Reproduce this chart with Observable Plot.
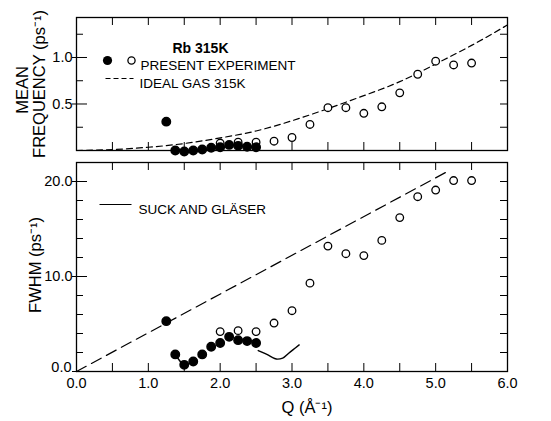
<!DOCTYPE html>
<html><head><meta charset="utf-8">
<script src="https://cdn.jsdelivr.net/npm/d3@7"></script>
<script src="https://cdn.jsdelivr.net/npm/@observablehq/plot@0.6"></script>
<style>
body{margin:0;background:#fff;}
#chart svg{display:block;overflow:visible;}
</style></head><body><div id="chart"></div>
<script>
// ---- data ----
const qFilled    = [1.25, 1.375, 1.5, 1.625, 1.75, 1.875, 2.0, 2.125, 2.25, 2.375, 2.5];
const freqFilled = [0.31, 0.0, -0.01, 0.0, 0.01, 0.03, 0.035, 0.06, 0.05, 0.04, 0.035];
const fwhmFilled = [5.3, 1.8, 0.7, 1.05, 1.8, 2.6, 3.0, 3.65, 3.3, 3.2, 3.0];
const qOpen    = [2.0, 2.25, 2.5, 2.75, 3.0, 3.25, 3.5, 3.75, 4.0, 4.25, 4.5, 4.75, 5.0, 5.25, 5.5];
const freqOpen = [0.08, 0.09, 0.09, 0.10, 0.14, 0.28, 0.46, 0.46, 0.40, 0.47, 0.62, 0.82, 0.96, 0.92, 0.94];
const fwhmOpen = [4.2, 4.3, 4.2, 5.1, 6.4, 9.3, 13.2, 12.4, 12.2, 13.8, 16.2, 18.4, 19.1, 20.1, 20.1];
const qIdealFreq = [0, 0.5, 1, 1.5, 2, 2.5, 3, 3.5, 4, 4.5, 5, 5.5, 6];
const idealFreq  = [0, 0.01, 0.035, 0.075, 0.135, 0.21, 0.32, 0.45, 0.59, 0.74, 0.93, 1.13, 1.35];
const qIdealFwhm = [0, 5.2];
const idealFwhm  = [0, 21.2];
const qSuck    = [1.4, 1.5, 2.53, 2.65, 2.8, 2.87, 2.95, 3.05, 3.1];
const suckFwhm = [1.5, 0.5, 2.2, 1.8, 1.3, 1.4, 1.9, 2.5, 2.8];
const suckSeg  = [0, 0, 1, 1, 1, 1, 1, 1, 1];
const xTickLabels = [0, 1, 2, 3, 4, 5, 6];
const xTicksMinor = [0.5, 1, 1.5, 2, 2.5, 3, 3.5, 4, 4.5, 5, 5.5];
const freqTickLabels = [0.5, 1.0];
const freqTicksMinor = [0.25, 0.75, 1.25];
const fwhmTickLabels = [0, 10, 20];
const fwhmTicksMinor = [2, 4, 6, 8, 12, 14, 16, 18];

const pts = (xs, ys) => xs.map((x, i) => ({q: x, v: ys[i]}));
const filledTop = pts(qFilled, freqFilled), openTop = pts(qOpen, freqOpen), idealTop = pts(qIdealFreq, idealFreq);
const filledBot = pts(qFilled, fwhmFilled), openBot = pts(qOpen, fwhmOpen), idealBot = pts(qIdealFwhm, idealFwhm);
const suck = qSuck.map((x, i) => ({q: x, v: suckFwhm[i], s: suckSeg[i]}));

const FONT = "'Liberation Sans', Arial, Helvetica, sans-serif";
const W = 551, ML = 76, MR = 44;
const FW = W - ML - MR;
const hLine = half => ({draw(ctx) { ctx.moveTo(-half, 0); ctx.lineTo(half, 0); }});

function ticksMarks(frameH, minorY, majorY) {
  return [
    Plot.tickX(xTicksMinor, {x: d => d, insetTop: frameH - 8, stroke: "black", strokeWidth: 1}),
    Plot.tickX(xTicksMinor, {x: d => d, insetBottom: frameH - 8, stroke: "black", strokeWidth: 1}),
    Plot.tickY(minorY, {y: d => d, insetRight: FW - 7, stroke: "black"}),
    Plot.tickY(majorY, {y: d => d, insetLeft: -4, insetRight: FW - 11, stroke: "black"}),
    Plot.tickY(minorY.concat(majorY), {y: d => d, insetLeft: FW - 7, stroke: "black"})
  ];
}

// ---- top panel ----
const topH = 156, topMT = 17, topMB = 6;
const topPlot = Plot.plot({
  width: W, height: topH, marginTop: topMT, marginBottom: topMB, marginLeft: ML, marginRight: MR,
  style: {fontFamily: FONT, fontSize: "14px", color: "black", background: "transparent"},
  x: {domain: [0, 6], axis: null},
  y: {domain: [0, 1.43], axis: null},
  marks: [
    Plot.frame({stroke: "black", strokeWidth: 1.3}),
    ...ticksMarks(topH - topMT - topMB, freqTicksMinor, freqTickLabels),
    Plot.axisY({ticks: freqTickLabels, tickFormat: ".1f", tickSize: 0, tickPadding: 4, label: null, fontSize: 14.5}),
    Plot.line(idealTop, {x: "q", y: "v", curve: "natural", stroke: "black", strokeWidth: 1.2, strokeDasharray: "6,4"}),
    Plot.dot(openTop, {x: "q", y: "v", r: 3.8, fill: "white", stroke: "black", strokeWidth: 1.3}),
    Plot.dot(filledTop, {x: "q", y: "v", r: 4.2, fill: "black", stroke: "black"}),
    Plot.text(["MEAN"], {text: d => d, frameAnchor: "left", textAnchor: "middle", rotate: -90, dx: -54, dy: 6, fontSize: 16.5}),
    Plot.text(["FREQUENCY (ps⁻¹)"], {text: d => d, frameAnchor: "left", textAnchor: "middle", rotate: -90, dx: -37, dy: 0, fontSize: 16.5}),
    // legend
    Plot.text(["Rb 315K"], {text: d => d, frameAnchor: "top-left", dx: 96, dy: 26, textAnchor: "start", fontSize: 14, fontWeight: "bold"}),
    Plot.dot([0], {frameAnchor: "top-left", dx: 31, dy: 43, r: 4.6, fill: "black"}),
    Plot.dot([0], {frameAnchor: "top-left", dx: 55, dy: 43, r: 3.6, fill: "white", stroke: "black", strokeWidth: 1.3}),
    Plot.text(["PRESENT EXPERIMENT"], {text: d => d, frameAnchor: "top-left", dx: 64, dy: 43, textAnchor: "start", fontSize: 13.5}),
    Plot.dot([0], {frameAnchor: "top-left", dx: 43, dy: 61, symbol: hLine(14), fill: "none", stroke: "black", strokeWidth: 1.2, strokeDasharray: "5,3"}),
    Plot.text(["IDEAL GAS 315K"], {text: d => d, frameAnchor: "top-left", dx: 63, dy: 61, textAnchor: "start", fontSize: 13.5})
  ]
});

// ---- bottom panel ----
const botH = 265, botMT = 6, botMB = 50;
const botPlot = Plot.plot({
  width: W, height: botH, marginTop: botMT, marginBottom: botMB, marginLeft: ML, marginRight: MR,
  style: {fontFamily: FONT, fontSize: "14px", color: "black", background: "transparent"},
  x: {domain: [0, 6], axis: null},
  y: {domain: [0, 22], axis: null},
  marks: [
    Plot.frame({stroke: "black", strokeWidth: 1.3}),
    ...ticksMarks(botH - botMT - botMB, fwhmTicksMinor, fwhmTickLabels),
    Plot.axisY({ticks: fwhmTickLabels.filter(d => d !== 0), tickFormat: ".1f", tickSize: 0, tickPadding: 4, label: null, fontSize: 14.5}),
    Plot.axisY({ticks: fwhmTickLabels.filter(d => d === 0), tickFormat: ".1f", tickSize: 0, tickPadding: 5, dy: -4, label: null, fontSize: 14.5}),
    Plot.axisX({ticks: xTickLabels, tickFormat: ".1f", tickSize: 0, tickPadding: 6, label: null, fontSize: 14.5}),
    Plot.line(idealBot, {x: "q", y: "v", stroke: "black", strokeWidth: 1.2, strokeDasharray: "11,6"}),
    Plot.line(suck, {x: "q", y: "v", z: "s", curve: "monotone-x", stroke: "black", strokeWidth: 1.4}),
    Plot.dot(openBot, {x: "q", y: "v", r: 3.8, fill: "white", stroke: "black", strokeWidth: 1.3}),
    Plot.dot(filledBot, {x: "q", y: "v", r: 4.2, fill: "black", stroke: "black"}),
    Plot.text(["FWHM (ps⁻¹)"], {text: d => d, frameAnchor: "left", textAnchor: "middle", rotate: -90, dx: -41, dy: -2, fontSize: 16.5}),
    Plot.text(["Q (Å⁻¹)"], {text: d => d, frameAnchor: "bottom", textAnchor: "middle", dx: 15, dy: 41, fontSize: 16.5}),
    // legend
    Plot.dot([0], {frameAnchor: "top-left", dx: 39, dy: 42, symbol: hLine(16), fill: "none", stroke: "black", strokeWidth: 1.2}),
    Plot.text(["SUCK AND GLÄSER"], {text: d => d, frameAnchor: "top-left", dx: 62, dy: 42, textAnchor: "start", fontSize: 13.5})
  ]
});

const c = document.getElementById("chart");
c.append(topPlot, botPlot);
</script></body></html>
